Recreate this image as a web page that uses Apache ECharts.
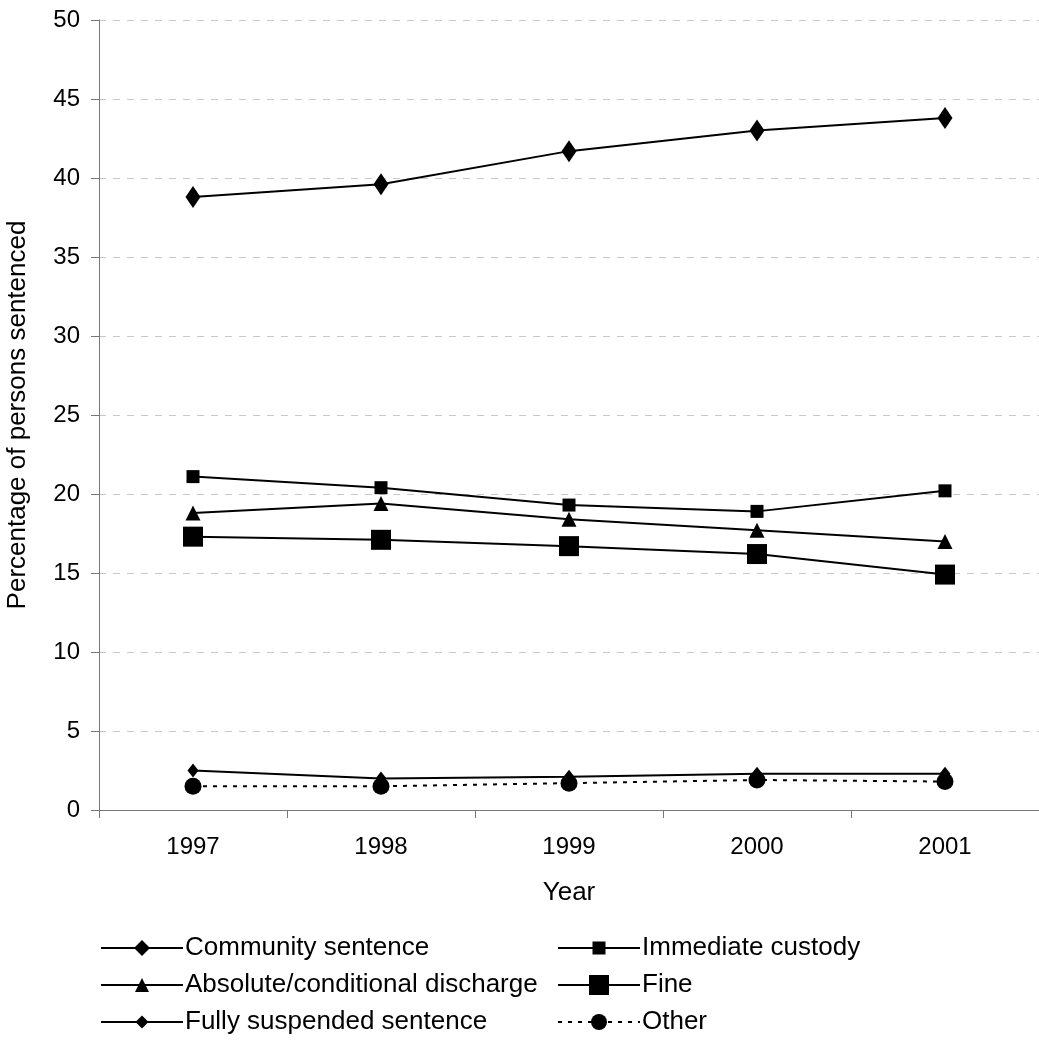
<!DOCTYPE html>
<html>
<head>
<meta charset="utf-8">
<title>Sentencing outcomes 1997–2001</title>
<script src="https://cdn.jsdelivr.net/npm/echarts@6/dist/echarts.min.js"></script>
<style>
  html, body { margin: 0; padding: 0; background: #fff; }
  #chart { width: 1039px; height: 1050px; }
</style>
</head>
<body>
<div id="chart"></div>
<script>
// Years on the category axis
const years = ['1997', '1998', '1999', '2000', '2001'];

// Percentage of persons sentenced, by sentence type
const communitySentence   = [38.8, 39.6, 41.7, 43.0, 43.8];
const immediateCustody    = [21.1, 20.4, 19.3, 18.9, 20.2];
const absoluteConditional = [18.8, 19.4, 18.4, 17.7, 17.0];
const fine                = [17.3, 17.1, 16.7, 16.2, 14.9];
const fullySuspended      = [2.5, 2.0, 2.1, 2.3, 2.3];
const other               = [1.5, 1.5, 1.7, 1.9, 1.8];

const yTicks = { min: 0, max: 50, interval: 5 };

const FONT = '"Liberation Sans", Arial, sans-serif';
const FS_TICK = 24;
const FS_TEXT = 26;

function lineSeries(name, data, symbol, size, dashed) {
  return {
    name: name,
    type: 'line',
    data: data,
    symbol: symbol,
    symbolSize: size,
    showSymbol: true,
    animation: false,
    lineStyle: { color: '#000', width: 2, type: dashed ? [4, 6] : 'solid' },
    itemStyle: { color: '#000', borderWidth: 0 },
    emphasis: { disabled: true }
  };
}

// One legend block per entry so each marker keeps its own size
function legendEntry(name, left, centerY, markerSize) {
  const ih = markerSize / 0.8;
  const boxH = Math.max(ih, FS_TEXT * 1.15);
  return {
    data: [name],
    left: left,
    top: Math.round(centerY - boxH / 2),
    padding: 0,
    itemWidth: 82,
    itemHeight: ih,
    itemGap: 0,
    selectedMode: false,
    textStyle: { fontFamily: FONT, fontSize: FS_TEXT, color: '#000', padding: [0, 0, 0, -3] }
  };
}

const chart = echarts.init(document.getElementById('chart'), null, { renderer: 'canvas' });

chart.setOption({
  backgroundColor: '#fff',
  animation: false,
  textStyle: { fontFamily: FONT },
  grid: { left: 99, right: 0, top: 20, bottom: 240, containLabel: false, outerBoundsMode: 'none' },
  xAxis: {
    type: 'category',
    data: years,
    boundaryGap: true,
    name: 'Year',
    nameLocation: 'middle',
    nameGap: 70,
    nameTextStyle: { fontFamily: FONT, fontSize: FS_TEXT, color: '#000' },
    axisLine: { lineStyle: { color: '#777', width: 1 } },
    axisTick: { show: true, inside: false, length: 8, alignWithLabel: false, lineStyle: { color: '#777' } },
    axisLabel: { fontFamily: FONT, fontSize: FS_TICK, color: '#000', margin: 25 },
    splitLine: { show: false }
  },
  yAxis: {
    type: 'value',
    min: yTicks.min,
    max: yTicks.max,
    interval: yTicks.interval,
    name: 'Percentage of persons sentenced',
    nameLocation: 'middle',
    nameGap: 68,
    nameTextStyle: { fontFamily: FONT, fontSize: FS_TEXT, color: '#000' },
    axisLine: { show: true, lineStyle: { color: '#777', width: 1 } },
    axisTick: { show: true, inside: false, length: 8, lineStyle: { color: '#777' } },
    axisLabel: { fontFamily: FONT, fontSize: FS_TICK, color: '#000', margin: 19 },
    splitLine: { show: true, lineStyle: { color: '#c8c8c8', type: [7, 7], width: 1 } }
  },
  legend: [
    legendEntry('Community sentence', 100, 950, 16),
    legendEntry('Absolute/conditional discharge', 100, 987, 14),
    legendEntry('Fully suspended sentence', 100, 1024, 13),
    legendEntry('Immediate custody', 557, 950, 13),
    legendEntry('Fine', 557, 987, 20),
    legendEntry('Other', 557, 1024, 16)
  ],
  series: [
    lineSeries('Community sentence', communitySentence, 'diamond', [15, 22], false),
    lineSeries('Immediate custody', immediateCustody, 'rect', 13, false),
    lineSeries('Absolute/conditional discharge', absoluteConditional, 'triangle', 15, false),
    lineSeries('Fine', fine, 'rect', 20, false),
    lineSeries('Fully suspended sentence', fullySuspended, 'diamond', [11, 14], false),
    lineSeries('Other', other, 'circle', 17, true)
  ]
});
</script>
</body>
</html>
